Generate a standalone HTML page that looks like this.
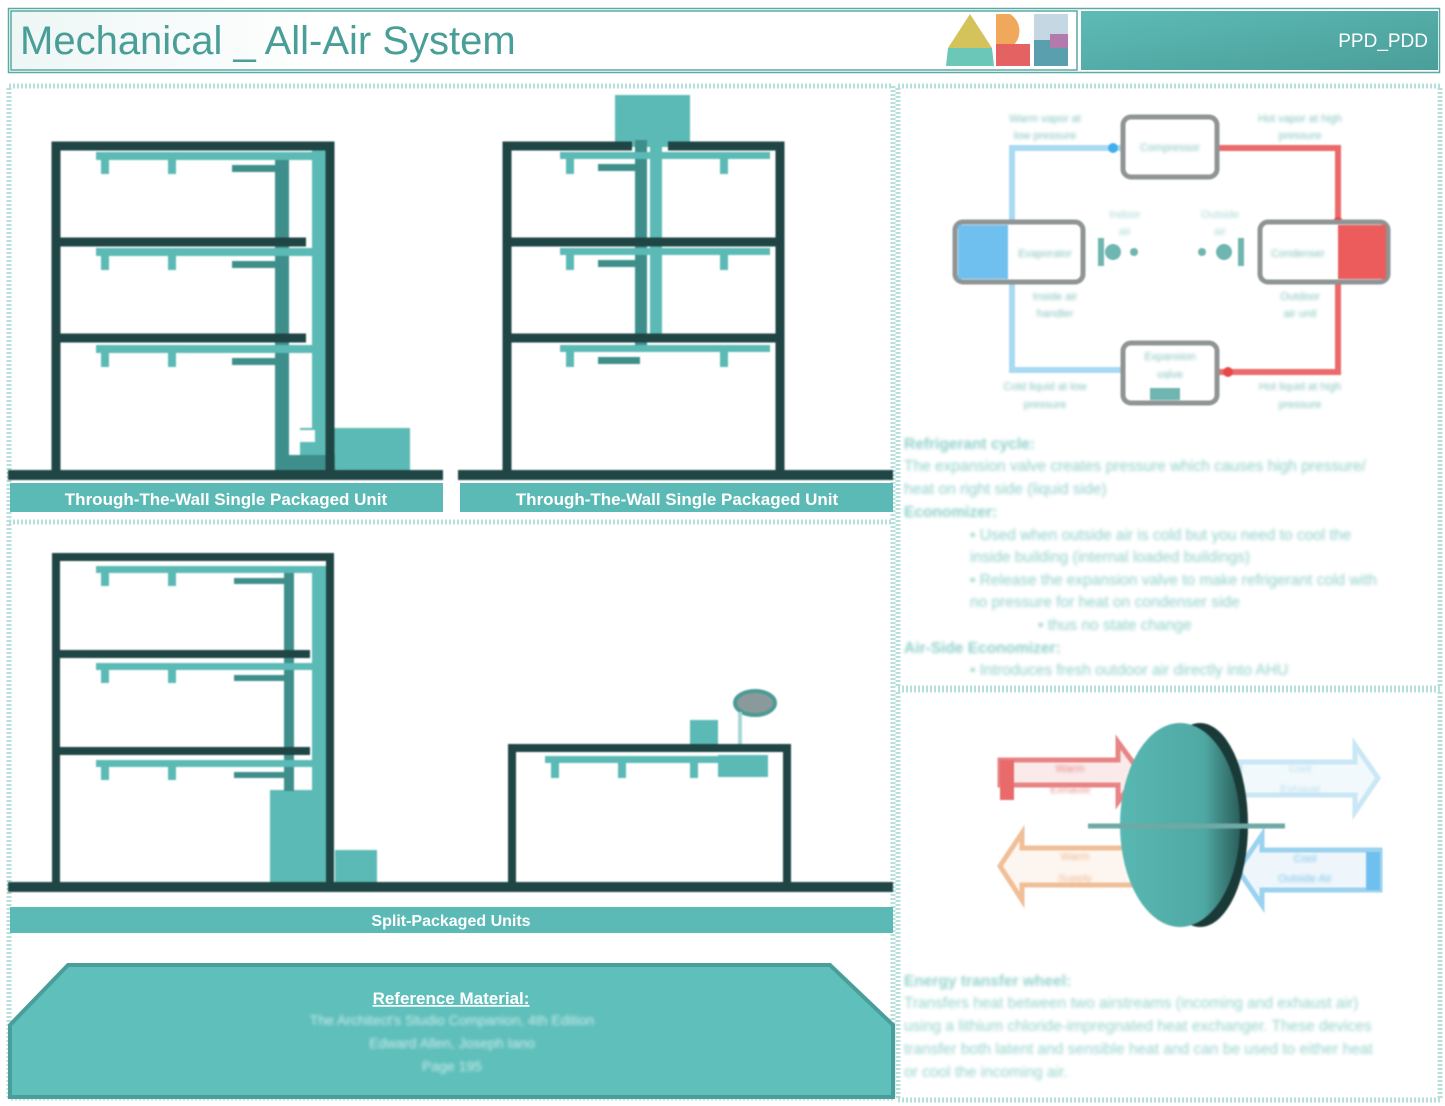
<!DOCTYPE html>
<html><head><meta charset="utf-8"><style>
html,body{margin:0;padding:0;background:#fff;}
body{width:1445px;height:1106px;overflow:hidden;position:relative;font-family:"Liberation Sans",sans-serif;}
.blur{filter:blur(1.6px);}
.soft{filter:blur(0.9px);}
</style></head><body>
<svg width="1445" height="1106" viewBox="0 0 1445 1106" xmlns="http://www.w3.org/2000/svg" style="position:absolute;left:0;top:0">
<defs>
<linearGradient id="hdr" x1="0" x2="1" y1="0" y2="0"><stop offset="0" stop-color="#eef6f6"/><stop offset="0.3" stop-color="#ffffff"/></linearGradient>
<linearGradient id="rb" x1="0" x2="1" y1="0" y2="1"><stop offset="0" stop-color="#5dbbb6"/><stop offset="1" stop-color="#4b9e99"/></linearGradient>
<linearGradient id="wheel" x1="0" x2="1"><stop offset="0" stop-color="#58b7b2"/><stop offset="0.7" stop-color="#4fa8a3"/><stop offset="1" stop-color="#2b5e5b"/></linearGradient>
</defs>

<rect x="8.5" y="8.5" width="1431" height="64" fill="none" stroke="#5aa9a4" stroke-width="1.5"/>
<rect x="11" y="11" width="1066" height="59" fill="url(#hdr)" stroke="#5aa9a4" stroke-width="1.5"/>
<rect x="1081" y="11" width="357" height="59" fill="url(#rb)"/>
<text x="20" y="54" font-size="40" fill="#4a9e98" font-family="Liberation Sans, DejaVu Sans, sans-serif">Mechanical _ All-Air System</text>
<text x="1428" y="47" font-size="19" fill="#fff" text-anchor="end">PPD_PDD</text>
<polygon points="970,14 992,48 948,48" fill="#d4c35a"/>
<polygon points="948,48 992,48 994,66 946,66" fill="#6bc8b8"/>
<path d="M996 14 h14 a20 20 0 0 1 0 34 l18 18 h-32 z" fill="#f0a85a"/>
<rect x="996" y="44" width="34" height="22" fill="#e46262"/>
<rect x="1034" y="14" width="34" height="52" fill="#c5d7e2"/>
<rect x="1034" y="40" width="34" height="26" fill="#5a9fae"/>
<rect x="1050" y="34" width="18" height="14" fill="#b27aad"/>

<g fill="none" stroke="#b7e0dc" stroke-width="5" stroke-dasharray="2 2">
<rect x="9" y="86" width="884" height="1012"/>
<rect x="898" y="86" width="542" height="602"/>
<rect x="898" y="690" width="542" height="410"/>
<line x1="9" y1="522" x2="893" y2="522"/>
</g>

<g class="soft">
<g>
<rect x="275" y="160" width="14" height="312" fill="#3e8f8b"/>
<rect x="312" y="150" width="16" height="290" fill="#5bbab5"/>
<rect x="300" y="428" width="110" height="42" fill="#5bbab5"/>
<rect x="295" y="430" width="20" height="12" fill="#fff"/>
<rect x="275" y="455" width="60" height="15" fill="#3e8f8b"/>
<g fill="#5bbab5">
<rect x="96" y="152" width="232" height="8"/><rect x="96" y="248" width="232" height="8"/><rect x="96" y="345" width="232" height="8"/>
<rect x="101" y="152" width="8" height="22"/><rect x="168" y="152" width="8" height="22"/>
<rect x="101" y="248" width="8" height="22"/><rect x="168" y="248" width="8" height="22"/>
<rect x="101" y="345" width="8" height="22"/><rect x="168" y="345" width="8" height="22"/>
</g>
<g fill="#3e8f8b"><rect x="232" y="165" width="55" height="7"/><rect x="232" y="261" width="55" height="7"/><rect x="232" y="358" width="55" height="7"/></g>
<g fill="none" stroke="#1f4544" stroke-width="9"><path d="M56 475 V146 H330 V475"/><line x1="56" y1="242" x2="306" y2="242"/><line x1="56" y1="338" x2="306" y2="338"/></g>
<line x1="8" y1="475" x2="443" y2="475" stroke="#1f4544" stroke-width="10"/>
</g>
<g>
<rect x="615" y="95" width="75" height="52" fill="#5bbab5"/>
<rect x="635" y="140" width="12" height="210" fill="#3e8f8b"/>
<rect x="650" y="140" width="12" height="200" fill="#5bbab5"/>
<g fill="#5bbab5">
<rect x="560" y="152" width="210" height="7"/><rect x="560" y="248" width="210" height="7"/><rect x="560" y="345" width="210" height="7"/>
<rect x="566" y="152" width="8" height="22"/><rect x="720" y="152" width="8" height="22"/>
<rect x="566" y="248" width="8" height="22"/><rect x="720" y="248" width="8" height="22"/>
<rect x="566" y="345" width="8" height="22"/><rect x="720" y="345" width="8" height="22"/>
</g>
<g fill="#3e8f8b"><rect x="598" y="164" width="42" height="7"/><rect x="598" y="260" width="42" height="7"/><rect x="598" y="357" width="42" height="7"/></g>
<g fill="none" stroke="#1f4544" stroke-width="9"><path d="M507 475 V146 H632 M668 146 H780 V475"/><line x1="507" y1="242" x2="780" y2="242"/><line x1="507" y1="338" x2="780" y2="338"/></g>
<line x1="458" y1="475" x2="893" y2="475" stroke="#1f4544" stroke-width="10"/>
</g>
<g>
<rect x="270" y="790" width="48" height="96" fill="#5bbab5"/>
<rect x="284" y="566" width="10" height="225" fill="#3e8f8b"/>
<rect x="312" y="566" width="14" height="320" fill="#5bbab5"/>
<rect x="335" y="850" width="42" height="36" fill="#5bbab5"/>
<g fill="#5bbab5">
<rect x="96" y="566" width="230" height="7"/><rect x="96" y="663" width="230" height="7"/><rect x="96" y="760" width="230" height="7"/>
<rect x="101" y="566" width="8" height="20"/><rect x="168" y="566" width="8" height="20"/>
<rect x="101" y="663" width="8" height="20"/><rect x="168" y="663" width="8" height="20"/>
<rect x="101" y="760" width="8" height="20"/><rect x="168" y="760" width="8" height="20"/>
</g>
<g fill="#3e8f8b"><rect x="234" y="578" width="54" height="6"/><rect x="234" y="675" width="54" height="6"/><rect x="234" y="772" width="54" height="6"/></g>
<g fill="none" stroke="#1f4544" stroke-width="8"><path d="M56 887 V557 H330 V887"/><line x1="56" y1="654" x2="310" y2="654"/><line x1="56" y1="751" x2="310" y2="751"/></g>
</g>
<g>
<rect x="690" y="720" width="28" height="30" fill="#5bbab5"/>
<rect x="718" y="755" width="50" height="22" fill="#5bbab5"/>
<ellipse cx="755" cy="703" rx="20" ry="12" fill="#8a9a9a" stroke="#4c9a95" stroke-width="4"/>
<line x1="740" y1="712" x2="740" y2="745" stroke="#a6d8d4" stroke-width="4"/>
<g fill="#5bbab5">
<rect x="545" y="756" width="180" height="7"/>
<rect x="551" y="756" width="8" height="22"/><rect x="618" y="756" width="8" height="22"/><rect x="690" y="756" width="8" height="22"/>
</g>
<g fill="none" stroke="#1f4544" stroke-width="8"><path d="M512 887 V748 H787 V887"/></g>
</g>
<line x1="8" y1="887" x2="893" y2="887" stroke="#1f4544" stroke-width="10"/>
</g>

<rect x="10" y="483" width="433" height="29" fill="#5bbab5"/>
<rect x="460" y="483" width="433" height="29" fill="#5bbab5"/>
<rect x="10" y="907" width="883" height="26" fill="#5bbab5"/>
<g font-family="Liberation Sans, sans-serif" font-weight="bold" fill="#fff" text-anchor="middle">
<text x="226" y="505" font-size="17">Through-The-Wall Single Packaged Unit</text>
<text x="677" y="505" font-size="17">Through-The-Wall Single Packaged Unit</text>
<text x="451" y="926" font-size="16">Split-Packaged Units</text>
</g>

<polygon points="68,965 830,965 893,1025 893,1097 10,1097 10,1025" fill="#5fbfbb" stroke="#4a9e99" stroke-width="4"/>
<text x="451" y="1004" font-size="17" font-weight="bold" fill="#fff" text-anchor="middle" text-decoration="underline">Reference Material:</text>
<g class="blur" fill="#cdeeed" font-size="14" text-anchor="middle">
<text x="452" y="1025">The Architect's Studio Companion, 4th Edition</text>
<text x="452" y="1048">Edward Allen, Joseph Iano</text>
<text x="452" y="1071">Page 195</text>
</g>

<g class="soft">
<path d="M1122 148 H1012 V370 H1122" fill="none" stroke="#a9daf4" stroke-width="6"/>
<path d="M1218 148 H1338 V372 H1218" fill="none" stroke="#ec6a6a" stroke-width="6"/>
<circle cx="1113" cy="148" r="5" fill="#3fb0ec"/>
<circle cx="1338" cy="222" r="5" fill="#e84848"/>
<circle cx="1228" cy="372" r="5" fill="#e84848"/>
<rect x="1123" y="117" width="94" height="60" rx="8" fill="#fff" stroke="#8f9494" stroke-width="5"/>
<rect x="1123" y="343" width="94" height="60" rx="8" fill="#fff" stroke="#8f9494" stroke-width="5"/>
<rect x="955" y="222" width="128" height="60" rx="8" fill="#fff" stroke="#8f9494" stroke-width="5"/>
<rect x="958" y="225" width="50" height="54" fill="#6fc0ee"/>
<rect x="1260" y="222" width="128" height="60" rx="8" fill="#fff" stroke="#8f9494" stroke-width="5"/>
<rect x="1338" y="225" width="48" height="54" fill="#ec5c5c"/>
<rect x="1150" y="388" width="30" height="12" fill="#6fb5b0"/>
<g fill="#6fb5b0"><rect x="1098" y="238" width="6" height="28"/><circle cx="1113" cy="252" r="8"/><circle cx="1134" cy="252" r="4"/>
<circle cx="1202" cy="252" r="4"/><circle cx="1224" cy="252" r="8"/><rect x="1238" y="238" width="6" height="28"/></g>
</g>
<g class="blur" fill="#86c4bf" font-size="11" text-anchor="middle">
<text x="1045" y="122">Warm vapor at</text><text x="1045" y="139">low pressure</text>
<text x="1300" y="122">Hot vapor at high</text><text x="1300" y="139">pressure</text>
<text x="1170" y="151">Compressor</text>
<text x="1045" y="257">Evaporator</text><text x="1298" y="257">Condenser</text>
<text x="1125" y="218" fill="#a8d8d4">Indoor</text><text x="1125" y="235" fill="#a8d8d4">air</text>
<text x="1220" y="218" fill="#a8d8d4">Outside</text><text x="1220" y="235" fill="#a8d8d4">air</text>
<text x="1055" y="300">Inside air</text><text x="1055" y="317">handler</text>
<text x="1300" y="300">Outdoor</text><text x="1300" y="317">air unit</text>
<text x="1170" y="360">Expansion</text><text x="1170" y="378">valve</text>
<text x="1045" y="390">Cold liquid at low</text><text x="1045" y="408">pressure</text>
<text x="1300" y="390">Hot liquid at high</text><text x="1300" y="408">pressure</text>
</g>

<g class="blur" fill="#8fd0ca" font-size="15.5">
<text x="904" y="449" font-weight="bold">Refrigerant cycle:</text>
<text x="904" y="471">The expansion valve creates pressure which causes high pressure/</text>
<text x="904" y="494">heat on right side (liquid side)</text>
<text x="904" y="517" font-weight="bold">Economizer:</text>
<text x="970" y="540">• Used when outside air is cold but you need to cool the</text>
<text x="970" y="562">inside building (internal loaded buildings)</text>
<text x="970" y="585">• Release the expansion valve to make refrigerant cold with</text>
<text x="970" y="607">no pressure for heat on condenser side</text>
<text x="1038" y="630">• thus no state change</text>
<text x="904" y="653" font-weight="bold">Air-Side Economizer:</text>
<text x="970" y="675">• Introduces fresh outdoor air directly into AHU</text>
</g>

<g class="soft">
<path d="M1000 760 H1118 V742 L1140 772 L1118 802 V785 H1000 Z" fill="#fbeaea" stroke="#e88484" stroke-width="5"/>
<rect x="1000" y="760" width="14" height="40" fill="#e86a6a"/>
<path d="M1380 850 H1262 V835 L1238 870 L1262 905 V890 H1380 Z" fill="#eef6fb" stroke="#9bd2ef" stroke-width="5"/>
<rect x="1366" y="852" width="14" height="38" fill="#6fc0ee"/>
<path d="M1140 848 H1022 V833 L1000 866 L1022 900 V885 H1140 Z" fill="#fdf6f0" stroke="#f0bf98" stroke-width="5"/>
<path d="M1240 762 H1355 V745 L1378 778 L1355 812 V795 H1240 Z" fill="#f2f9fc" stroke="#c9e7f5" stroke-width="5"/>
<ellipse cx="1200" cy="825" rx="48" ry="102" fill="#1a3a38"/>
<ellipse cx="1180" cy="825" rx="60" ry="102" fill="url(#wheel)"/>
<line x1="1088" y1="826" x2="1285" y2="826" stroke="#6ea9a6" stroke-width="5"/>
</g>
<g class="blur" font-size="11" text-anchor="middle">
<text x="1070" y="772" fill="#e88a8a">Warm</text><text x="1070" y="793" fill="#e88a8a">Exhaust</text>
<text x="1300" y="772" fill="#b6dff3">Cool</text><text x="1300" y="793" fill="#b6dff3">Exhaust</text>
<text x="1075" y="860" fill="#f0b890">Warm</text><text x="1075" y="882" fill="#f0b890">Supply</text>
<text x="1305" y="862" fill="#80c4ec">Cool</text><text x="1305" y="882" fill="#80c4ec">Outside Air</text>
</g>

<g class="blur" fill="#95d3cd" font-size="15.5">
<text x="904" y="986" font-weight="bold">Energy transfer wheel:</text>
<text x="904" y="1008">Transfers heat between two airstreams (incoming and exhaust air)</text>
<text x="904" y="1031">using a lithium chloride-impregnated heat exchanger. These devices</text>
<text x="904" y="1054">transfer both latent and sensible heat and can be used to either heat</text>
<text x="904" y="1077">or cool the incoming air.</text>
</g>
</svg>
</body></html>
